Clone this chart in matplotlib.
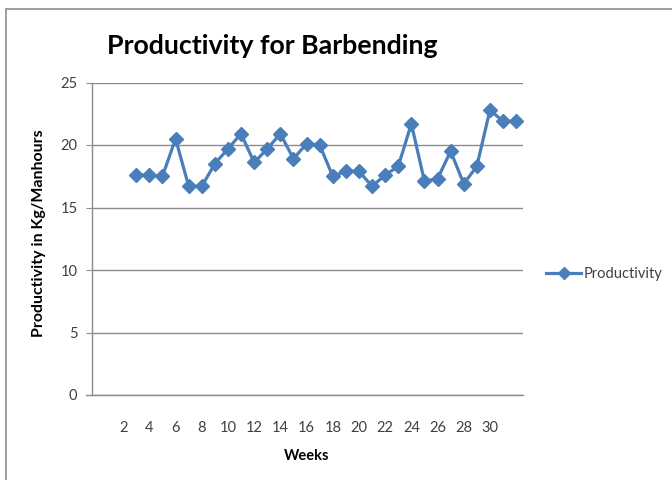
import matplotlib
matplotlib.use("Agg")
import matplotlib.pyplot as plt
from matplotlib.lines import Line2D
from matplotlib.patches import Rectangle

# Weekly barbending productivity (kg per manhour)
weeks = list(range(3, 33))
productivity = [17.6, 17.6, 17.5, 20.5, 16.7, 16.7, 18.5, 19.7, 20.9, 18.6,
                19.7, 20.9, 18.9, 20.1, 20.0, 17.5, 17.9, 17.9, 16.7, 17.6,
                18.3, 21.7, 17.1, 17.3, 19.5, 16.9, 18.3, 22.8, 21.9, 21.9]
week_ticks = list(range(2, 31, 2))
y_ticks = [0, 5, 10, 15, 20, 25]

plt.rcParams['font.family'] = ['Lato', 'DejaVu Sans']

W, H = 672, 480
fig = plt.figure(figsize=(W / 100, H / 100), dpi=100)

# chart frame
fig.patches.append(Rectangle((6 / W, -0.1), 1.0, 1 - 9 / H + 0.1,
                             transform=fig.transFigure, fill=False,
                             edgecolor='#8c8c8c', linewidth=1.2))

left, right = 92, 522.7
top, bottom = 82.5, 395
ax = fig.add_axes([left / W, 1 - bottom / H, (right - left) / W, (bottom - top) / H])

blue = '#4a7ebb'
ax.plot(weeks, productivity, color=blue, linewidth=2.3, marker='D',
        markersize=7, markerfacecolor=blue, markeredgecolor=blue,
        label='Productivity', solid_joinstyle='round')

ax.set_xlim(-0.38, 32.5)
ax.set_ylim(0, 25)
ax.set_yticks(y_ticks)
ax.set_xticks(week_ticks)
ax.grid(axis='y', color='#8c8c8c', linewidth=1.0)
ax.set_axisbelow(True)

for s in ['top', 'right']:
    ax.spines[s].set_visible(False)
ax.spines['left'].set_color('#8c8c8c')
ax.spines['bottom'].set_color('#8c8c8c')
ax.spines['left'].set_linewidth(1.0)
ax.spines['bottom'].set_linewidth(1.0)

ax.tick_params(axis='y', length=4.5, color='#8c8c8c', labelsize=10.5,
               labelcolor='#404040', pad=6)
ax.tick_params(axis='x', length=0, labelsize=10.5, labelcolor='#404040', pad=19)

# extend baseline slightly to the left like the gridline ticks
ax.plot([-0.38 - 6 / 13.09, -0.38], [0, 0], color='#8c8c8c', linewidth=1.0,
        clip_on=False)

fig.text(307 / W, 1 - 456 / H, 'Weeks', fontsize=10.5, fontweight='bold',
         ha='center', va='center')
fig.text(39 / W, 1 - 233 / H, 'Productivity in Kg/Manhours', fontsize=11.5,
         fontweight='bold', rotation=90, ha='center', va='center')

fig.text(107 / W, 1 - 46 / H, 'Productivity for Barbending', fontsize=19.3,
         fontweight='bold', ha='left', va='center', color='black')

handle = Line2D([], [], color=blue, linewidth=2.3, marker='D', markersize=6.5)
fig.legend(handles=[handle], labels=['Productivity'], loc='center left',
           bbox_to_anchor=(533 / W, 1 - 274 / H), frameon=False, fontsize=10.5,
           handlelength=2.4, handletextpad=0.2, labelcolor='#404040')

fig.savefig('out.png', dpi=100)
